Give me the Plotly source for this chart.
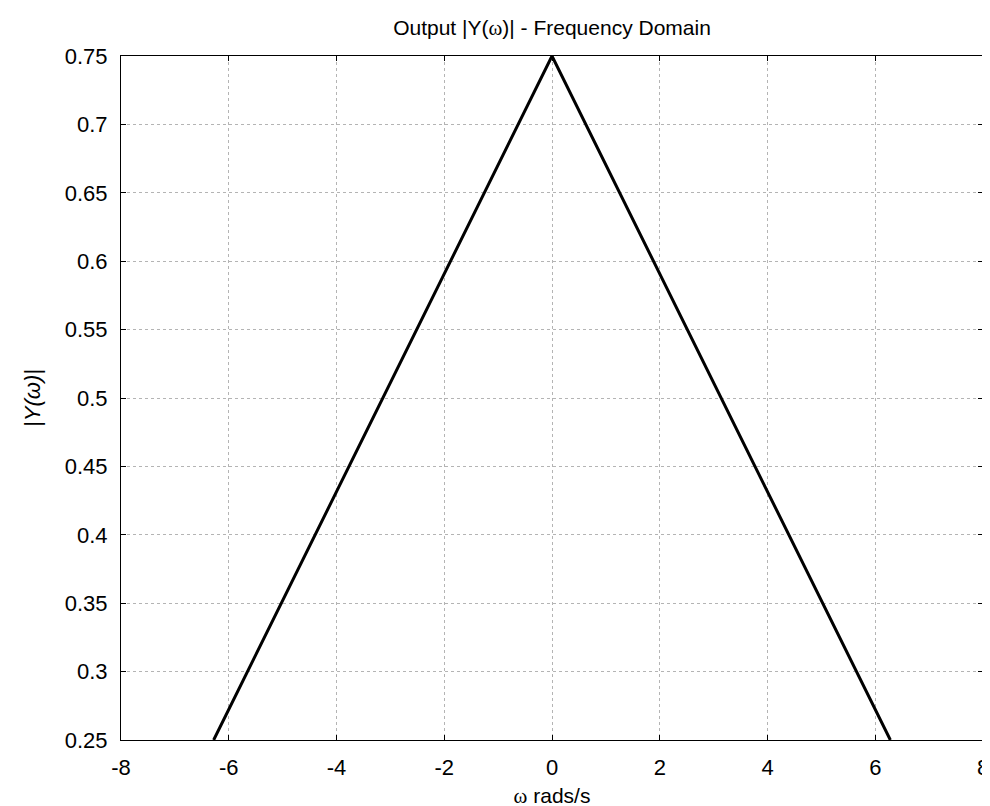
import plotly.graph_objects as go

# Data
omega = [-6.28, 0.0, 6.28]
mag_y = [0.25, 0.75, 0.25]

x_ticks = [-8, -6, -4, -2, 0, 2, 4, 6, 8]
y_ticks = [0.25, 0.3, 0.35, 0.4, 0.45, 0.5, 0.55, 0.6, 0.65, 0.7, 0.75]
y_tick_text = ["0.25", "0.3", "0.35", "0.4", "0.45", "0.5", "0.55", "0.6", "0.65", "0.7", "0.75"]

FONT = "Arial, 'Liberation Sans', sans-serif"
SERIF = "'Liberation Serif', 'Times New Roman', serif"

fig = go.Figure()
fig.add_trace(go.Scatter(
    x=omega, y=mag_y, mode="lines",
    line=dict(color="black", width=3),
    showlegend=False, hoverinfo="skip",
))

axis_common = dict(
    showline=True, linecolor="black", linewidth=1,
    mirror="allticks", ticks="inside", ticklen=5, tickcolor="black", tickwidth=1,
    showgrid=True, gridcolor="#b4b4b4", griddash="dot", gridwidth=1,
    zeroline=False, automargin=False,
    tickfont=dict(family=FONT, size=22, color="black"),
)

fig.update_layout(
    width=990, height=806,
    paper_bgcolor="white", plot_bgcolor="white",
    margin=dict(l=113, r=15, t=48, b=74),
    title=dict(
        text=f"Output |Y(<span style=\"font-family:{SERIF}\">ω</span>)| - Frequency Domain",
        x=0.5, xref="paper", xanchor="center",
        y=1 - 20 / 806, yref="container", yanchor="middle",
        font=dict(family=FONT, size=21, color="black"),
    ),
    xaxis=dict(
        range=[-8, 8], tickvals=x_ticks, ticktext=[str(t) for t in x_ticks],
        title=dict(text=f"<span style=\"font-family:{SERIF}\">ω</span> rads/s",
                   font=dict(family=FONT, size=21, color="black"), standoff=8),
        ticklabelstandoff=8,
        **axis_common,
    ),
    yaxis=dict(
        range=[0.25, 0.75], tickvals=y_ticks, ticktext=y_tick_text,
        title=dict(text="<i>|Y(ω)|</i>",
                   font=dict(family=FONT, size=22, color="black"), standoff=18),
        ticklabelstandoff=8,
        **axis_common,
    ),
)

fig.write_html("out.html")
